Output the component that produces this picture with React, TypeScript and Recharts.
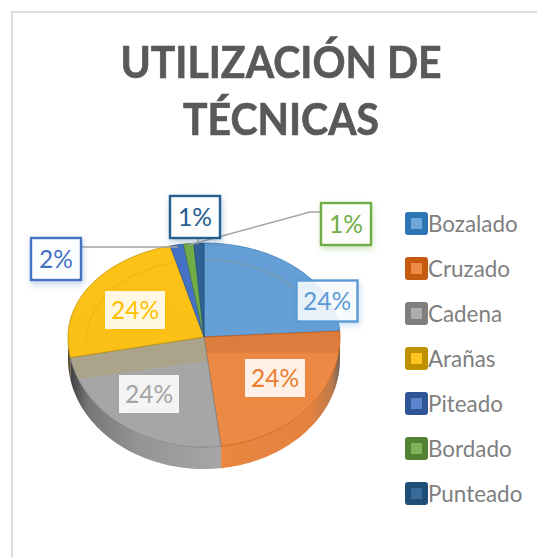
import { PieChart, Pie, Legend } from 'recharts';

const categories = ['Bozalado', 'Cruzado', 'Cadena', 'Arañas', 'Piteado', 'Bordado', 'Punteado'];
const values = [24, 24, 24, 24, 1.6, 1.2, 1.2];

const faceColors = ['#659fd6', '#ed8a45', '#a5a5a5', '#fdc216', '#4d7cca', '#74ae4c', '#2f6396'];
const rimColors = ['#2e75b6', '#c55a11', '#7f7f7f', '#bf9000', '#2f5597', '#548235', '#1f4e79'];
const labelColors = ['#5b9bd5', '#ed7d31', '#a5a5a5', '#ffc000', '#4472c4', '#70ad47', '#255e91'];
const legendInner = ['#6fa6d8', '#ee8a48', '#adadad', '#ffc520', '#5b84cf', '#7fb35a', '#3a6a9a'];

const chartData = categories.map((name, i) => ({ name, value: values[i], fill: faceColors[i] }));

// label boxes: centre x, centre y, width, height, has border
const labelBoxes = [
  { x: 327, y: 301, w: 61, h: 41, border: true, alpha: 0.86 },
  { x: 275, y: 378, w: 60, h: 38, border: false, alpha: 0.88 },
  { x: 149, y: 394, w: 60, h: 38, border: false, alpha: 0.88 },
  { x: 135, y: 310, w: 60, h: 38, border: false, alpha: 0.88 },
  { x: 56, y: 259, w: 50, h: 42, border: true, alpha: 0.96 },
  { x: 346, y: 224, w: 50, h: 42, border: true, alpha: 0.96 },
  { x: 195, y: 217, w: 50, h: 42, border: true, alpha: 0.96 },
];

const leaderLines = ['', '', '', '', 'M81 247 H178', 'M322 212 H310 L189 245', 'M198 238 V244'];

const TOP_SQUASH = 94 / 136;
const BOTTOM_SQUASH = 110 / 136;
const DEPTH = 22;
const RAD = Math.PI / 180;

// t is clockwise degrees from 12 o'clock
const rimPoint = (cx: number, cy: number, r: number, t: number, dy = 0): [number, number] => {
  const c = Math.cos(t * RAD);
  const squash = c > 0 ? TOP_SQUASH : BOTTOM_SQUASH;
  return [cx + r * Math.sin(t * RAD), cy - r * squash * c + dy];
};

const arcPoints = (cx: number, cy: number, r: number, from: number, to: number, dy = 0) => {
  const pts: [number, number][] = [];
  const steps = Math.max(2, Math.ceil(Math.abs(to - from)));
  for (let i = 0; i <= steps; i++) pts.push(rimPoint(cx, cy, r, from + ((to - from) * i) / steps, dy));
  return pts;
};

const toPath = (pts: [number, number][]) => pts.map((p, i) => `${i ? 'L' : 'M'}${p[0].toFixed(2)} ${p[1].toFixed(2)}`).join(' ');

const Slice = (props: any) => {
  const { cx, cy, outerRadius, startAngle, endAngle, index } = props;
  const t0 = 90 - startAngle;
  const t1 = 90 - endAngle;
  const arc = arcPoints(cx, cy, outerRadius, t0, t1);
  const face = `M${cx} ${cy} ${toPath(arc).replace('M', 'L')} Z`;
  const wallFrom = Math.max(t0, 90);
  const wallTo = Math.min(t1, 270);
  let wall = null;
  if (wallTo > wallFrom) {
    const upper = arcPoints(cx, cy, outerRadius, wallFrom, wallTo);
    const lower = arcPoints(cx, cy, outerRadius, wallTo, wallFrom, DEPTH);
    wall = <path d={`${toPath(upper)} ${toPath(lower).replace('M', 'L')} Z`} fill={`url(#wall${index})`} />;
  }
  const inner = arcPoints(cx, cy + 4, outerRadius - 18, index === 3 ? 270 : t0, index === 0 ? Math.min(t1, 75) : t1);
  return (
    <g>
      {wall}
      <path d={face} fill={`url(#face${index})`} stroke={rimColors[index]} strokeWidth={1} strokeOpacity={0.75} />
      {index === 0 || index === 3 ? <path d={toPath(inner)} fill="none" stroke="#c98f10" strokeOpacity={0.18} strokeWidth={1.5} /> : null}
    </g>
  );
};

const SliceLabel = (props: any) => {
  const { index, percent } = props;
  const box = labelBoxes[index];
  return (
    <g>
      {leaderLines[index] ? <path d={leaderLines[index]} fill="none" stroke="#a5a5a5" strokeWidth={1.6} /> : null}
      <rect
        x={box.x - box.w / 2}
        y={box.y - box.h / 2}
        width={box.w}
        height={box.h}
        fill="#ffffff"
        fillOpacity={box.alpha}
        stroke={box.border ? labelColors[index] : 'none'}
        strokeWidth={2.4}
        style={{ filter: `drop-shadow(1px 3px 3px ${labelColors[index]}55)` }}
      />
      <text
        x={box.x}
        y={box.y + 3}
        textAnchor="middle"
        dominantBaseline="middle"
        fontFamily="Lato, sans-serif"
        fontSize={24.5}
        fill={labelColors[index]}
      >
        {`${Math.round(percent * 100)}%`}
      </text>
    </g>
  );
};

const LegendList = (props: any) => (
  <div>
    {(props.payload || []).map((item: any, i: number) => (
      <div key={item.value} style={{ display: 'flex', alignItems: 'center', height: 45 }}>
        <div
          style={{
            width: 23,
            height: 23,
            borderRadius: 3,
            background: rimColors[i],
            display: 'flex',
            alignItems: 'center',
            justifyContent: 'center',
            flexShrink: 0,
          }}
        >
          <div style={{ width: 11, height: 11, background: legendInner[i] }} />
        </div>
        <span style={{ fontFamily: 'Lato, sans-serif', fontSize: 22.4, color: '#7f7f7f' }}>{item.value}</span>
      </div>
    ))}
  </div>
);

export default function App() {
  return (
    <div style={{ position: 'absolute', left: 0, top: 0, width: 537, height: 557, background: '#fff', overflow: 'hidden' }}>
      <div style={{ position: 'absolute', left: 11, top: 11, width: 540, height: 560, border: '2px solid #dcdcdc' }} />
      <div
        style={{
          position: 'absolute',
          left: 0,
          width: 562,
          top: 33,
          textAlign: 'center',
          fontFamily: 'Lato, sans-serif',
          fontWeight: 700,
          fontSize: 44,
          lineHeight: '57px',
          color: '#595959',
          WebkitTextStroke: '0.7px #595959',
          transform: 'scaleX(0.93)',
          transformOrigin: '281px 0',
        }}
      >
        UTILIZACIÓN DE
        <br />
        TÉCNICAS
      </div>
      <div style={{ position: 'absolute', left: 0, top: 0 }}>
        <PieChart width={537} height={557} margin={{ top: 0, right: 0, bottom: 0, left: 0 }}>
          <defs>
            <linearGradient id="face0" x1="0" y1="0" x2="0" y2="1">
              <stop offset="0" stopColor="#659fd6" />
              <stop offset="1" stopColor="#659fd6" />
            </linearGradient>
            <linearGradient id="face1" x1="0" y1="0" x2="0" y2="1">
              <stop offset="0" stopColor="#dc7c3d" />
              <stop offset="0.18" stopColor="#dc7c3d" />
              <stop offset="0.2" stopColor="#ec8944" />
              <stop offset="1" stopColor="#ec8944" />
            </linearGradient>
            <linearGradient id="face2" gradientUnits="userSpaceOnUse" x1="205" y1="360" x2="223" y2="490">
              <stop offset="0" stopColor="#aca48a" />
              <stop offset="0.02" stopColor="#a6a6a6" />
              <stop offset="1" stopColor="#a6a6a6" />
            </linearGradient>
            <linearGradient id="face3" x1="0" y1="0" x2="0" y2="1">
              <stop offset="0" stopColor="#fdc216" />
              <stop offset="1" stopColor="#fbc016" />
            </linearGradient>
            <linearGradient id="face4" x1="0" y1="0" x2="0" y2="1">
              <stop offset="0" stopColor="#4472c4" />
              <stop offset="1" stopColor="#4472c4" />
            </linearGradient>
            <linearGradient id="face5" x1="0" y1="0" x2="0" y2="1">
              <stop offset="0" stopColor="#70ad47" />
              <stop offset="1" stopColor="#70ad47" />
            </linearGradient>
            <linearGradient id="face6" x1="0" y1="0" x2="0" y2="1">
              <stop offset="0" stopColor="#2f6396" />
              <stop offset="1" stopColor="#2f6396" />
            </linearGradient>
            <linearGradient id="wall1" x1="0" y1="0" x2="1" y2="0">
              <stop offset="0" stopColor="#e9863f" />
              <stop offset="0.75" stopColor="#e48240" />
              <stop offset="0.93" stopColor="#c07a4a" />
              <stop offset="1" stopColor="#6f6256" />
            </linearGradient>
            <linearGradient id="wall2" x1="0" y1="0" x2="1" y2="0">
              <stop offset="0" stopColor="#3f3f3f" />
              <stop offset="0.12" stopColor="#777777" />
              <stop offset="0.45" stopColor="#949494" />
              <stop offset="1" stopColor="#a6a6a6" />
            </linearGradient>
            <linearGradient id="wall3" x1="0" y1="0" x2="1" y2="0">
              <stop offset="0" stopColor="#5a5030" />
              <stop offset="1" stopColor="#5a5030" />
            </linearGradient>
          </defs>
          <Pie
            data={chartData}
            dataKey="value"
            nameKey="name"
            cx={204}
            cy={337}
            innerRadius={0}
            outerRadius={136}
            startAngle={90}
            endAngle={-270}
            stroke="none"
            shape={Slice}
            label={SliceLabel}
            labelLine={false}
            isAnimationActive={false}
          />
          <Legend
            content={LegendList}
            itemSorter={null}
            layout="vertical"
            wrapperStyle={{ position: 'absolute', left: 405, top: 201, width: 132 }}
          />
        </PieChart>
      </div>
    </div>
  );
}
